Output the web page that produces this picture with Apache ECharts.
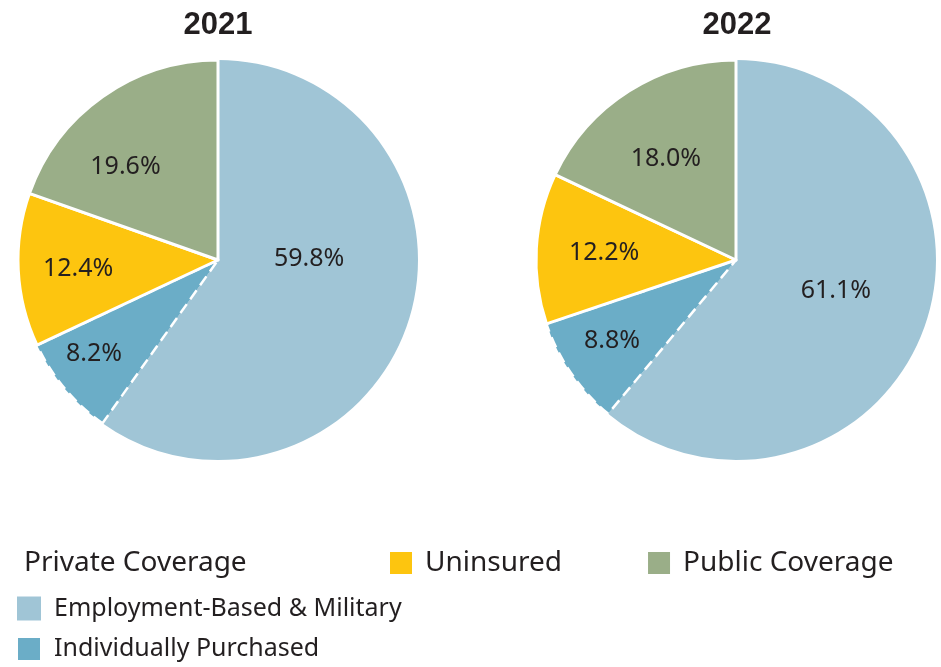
<!DOCTYPE html>
<html><head><meta charset="utf-8">
<script src="https://cdn.jsdelivr.net/npm/echarts@6/dist/echarts.min.js"></script>
<style>html,body{margin:0;padding:0;background:#fff}#c{width:941px;height:667px}</style>
</head><body><div id="c"></div>
<script>
const categories = ['Employment-Based & Military', 'Individually Purchased', 'Uninsured', 'Public Coverage'];
const years = ['2021', '2022'];
const values2021 = [59.8, 8.2, 12.4, 19.6];
const values2022 = [61.1, 8.8, 12.2, 18.0];

const colors = ['#a0c5d6', '#6badc7', '#fdc50f', '#9aae88'];
const FONT = 'Noto Sans';
const labelOffsets = {
  '2021': [[-7, -32], [-45, 28], [-37, 4], [-33, -9]],
  '2022': [[3, -4], [-39, 23], [-29, -1], [-15, -14]]
};
const borderStyles = [
  { borderWidth: 0 },
  { borderWidth: 2.5, borderColor: '#fff', borderType: [11, 6] },
  { borderWidth: 3, borderColor: '#fff', borderType: 'solid' },
  { borderWidth: 3, borderColor: '#fff', borderType: 'solid' }
];

function makeSeries(year, values, center) {
  return {
    type: 'pie',
    name: year,
    center: center,
    radius: [0, 200],
    startAngle: 90,
    clockwise: true,
    avoidLabelOverlap: false,
    emphasis: { disabled: true },
    animation: false,
    label: {
      show: true, position: 'inside',
      formatter: p => p.value.toFixed(1) + '%',
      fontFamily: FONT, fontSize: 25, color: '#231f20'
    },
    labelLine: { show: false },
    data: categories.map((c, i) => ({
      name: c, value: values[i],
      itemStyle: Object.assign({ color: colors[i] }, borderStyles[i]),
      label: { offset: labelOffsets[year][i] }
    }))
  };
}

const chart = echarts.init(document.getElementById('c'), null, { renderer: 'canvas' });
chart.setOption({
  backgroundColor: '#fff',
  animation: false,
  title: [
    { text: years[0], left: 213, top: 5, textAlign: 'center', textStyle: { fontFamily: 'Liberation Sans', fontWeight: 'bold', fontSize: 31, color: '#231f20' } },
    { text: years[1], left: 732, top: 5, textAlign: 'center', textStyle: { fontFamily: 'Liberation Sans', fontWeight: 'bold', fontSize: 31, color: '#231f20' } },
    { text: 'Private Coverage', left: 19, top: 544, textStyle: { fontFamily: FONT, fontWeight: 'normal', fontSize: 28, color: '#231f20' } }
  ],
  legend: [
    {
      data: ['Uninsured', 'Public Coverage'],
      left: 388, top: 549, padding: 0,
      itemWidth: 24, itemHeight: 24, itemGap: 84,
      icon: 'rect', selectedMode: false,
      textStyle: { fontFamily: FONT, fontSize: 28, color: '#231f20', padding: [0, 0, 0, 7] }
    },
    {
      data: ['Employment-Based & Military', 'Individually Purchased'],
      left: 16, top: 596, padding: 0, orient: 'vertical',
      itemWidth: 24, itemHeight: 24, itemGap: 15,
      icon: 'rect', selectedMode: false,
      textStyle: { fontFamily: FONT, fontSize: 25, color: '#231f20', padding: [0, 0, 0, 8] }
    }
  ],
  series: [
    makeSeries(years[0], values2021, [218, 260]),
    makeSeries(years[1], values2022, [736, 260])
  ]
});
</script></body></html>
